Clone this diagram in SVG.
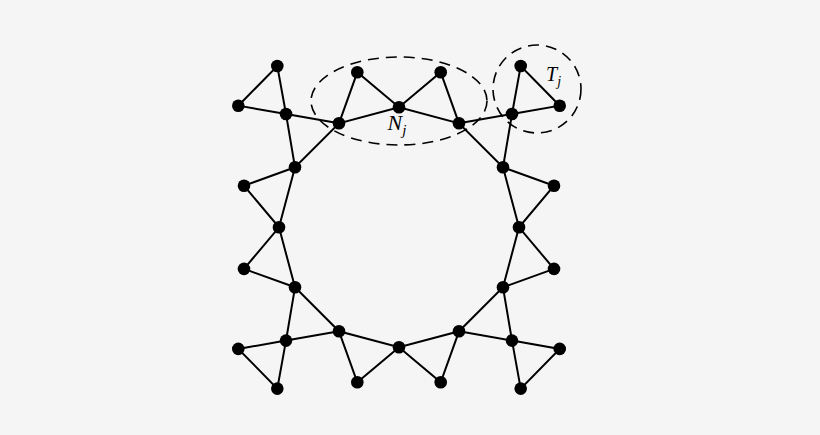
<svg xmlns="http://www.w3.org/2000/svg" width="820" height="435" viewBox="0 0 820 435">
<style>
.e{stroke:#000;stroke-width:2;fill:none;stroke-linecap:round}
.n{fill:#000}
.d{stroke:#000;stroke-width:1.6;fill:none;stroke-dasharray:11 7}
.l{font-family:"Liberation Serif","DejaVu Serif",serif;font-style:italic;fill:#000}
</style>
<rect width="820" height="435" fill="#f5f5f5"/>
<g id="regions">
<ellipse id="Nj-region" class="d" cx="399" cy="101" rx="88" ry="44"/>
<circle id="Tj-region" class="d" cx="537" cy="89" r="44"/>
</g>
<g id="connectors">
<path class="e" d="M399,107.3 L339,123.3 L295,167.3 L279,227.3 L295,287.3 L339,331.3 L399,347.3 L459,331.3 L503,287.3 L519,227.3 L503,167.3 L459,123.3 Z"/>
<path class="e" d="M339,123.3 L357.3,72.3 L399,107.3 L440.7,72.3 L459,123.3"/>
<path class="e" d="M339,331.3 L357.3,382.3 L399,347.3 L440.7,382.3 L459,331.3"/>
<path class="e" d="M295,167.3 L244,185.7 L279,227.3 L244,268.9 L295,287.3"/>
<path class="e" d="M503,167.3 L554,185.7 L519,227.3 L554,268.9 L503,287.3"/>
<path class="e" d="M339,123.3 L286,114 L295,167.3 M286,114 L277.3,66 L238.3,105.7 Z"/>
<path class="e" d="M459,123.3 L512,114 L503,167.3 M512,114 L520.7,66 L559.7,105.7 Z"/>
<path class="e" d="M339,331.3 L286,340.6 L295,287.3 M286,340.6 L238.3,348.9 L277.3,388.6 Z"/>
<path class="e" d="M459,331.3 L512,340.6 L503,287.3 M512,340.6 L559.7,348.9 L520.7,388.6 Z"/>
</g>
<g id="nodes">
<circle id="r0" class="n" cx="399" cy="107.3" r="6.3"/>
<circle id="r1" class="n" cx="339" cy="123.3" r="6.3"/>
<circle id="r2" class="n" cx="295" cy="167.3" r="6.3"/>
<circle id="r3" class="n" cx="279" cy="227.3" r="6.3"/>
<circle id="r4" class="n" cx="295" cy="287.3" r="6.3"/>
<circle id="r5" class="n" cx="339" cy="331.3" r="6.3"/>
<circle id="r6" class="n" cx="399" cy="347.3" r="6.3"/>
<circle id="r7" class="n" cx="459" cy="331.3" r="6.3"/>
<circle id="r8" class="n" cx="503" cy="287.3" r="6.3"/>
<circle id="r9" class="n" cx="519" cy="227.3" r="6.3"/>
<circle id="r10" class="n" cx="503" cy="167.3" r="6.3"/>
<circle id="r11" class="n" cx="459" cy="123.3" r="6.3"/>
<circle id="t1" class="n" cx="357.3" cy="72.3" r="6.3"/>
<circle id="t2" class="n" cx="440.7" cy="72.3" r="6.3"/>
<circle id="b1" class="n" cx="357.3" cy="382.3" r="6.3"/>
<circle id="b2" class="n" cx="440.7" cy="382.3" r="6.3"/>
<circle id="l1" class="n" cx="244" cy="185.7" r="6.3"/>
<circle id="l2" class="n" cx="244" cy="268.9" r="6.3"/>
<circle id="g1" class="n" cx="554" cy="185.7" r="6.3"/>
<circle id="g2" class="n" cx="554" cy="268.9" r="6.3"/>
<circle id="ctl" class="n" cx="286" cy="114" r="6.3"/>
<circle id="ctl-a" class="n" cx="277.3" cy="66" r="6.3"/>
<circle id="ctl-b" class="n" cx="238.3" cy="105.7" r="6.3"/>
<circle id="ctr" class="n" cx="512" cy="114" r="6.3"/>
<circle id="ctr-a" class="n" cx="520.7" cy="66" r="6.3"/>
<circle id="ctr-b" class="n" cx="559.7" cy="105.7" r="6.3"/>
<circle id="cbl" class="n" cx="286" cy="340.6" r="6.3"/>
<circle id="cbl-a" class="n" cx="238.3" cy="348.9" r="6.3"/>
<circle id="cbl-b" class="n" cx="277.3" cy="388.6" r="6.3"/>
<circle id="cbr" class="n" cx="512" cy="340.6" r="6.3"/>
<circle id="cbr-a" class="n" cx="559.7" cy="348.9" r="6.3"/>
<circle id="cbr-b" class="n" cx="520.7" cy="388.6" r="6.3"/>
</g>
<g id="labels">
<text class="l" x="387.5" y="129.5" font-size="22">N<tspan font-size="15" dy="5">j</tspan></text>
<text class="l" x="546" y="81" font-size="20">T<tspan font-size="14" dy="5">j</tspan></text>
</g>
</svg>
